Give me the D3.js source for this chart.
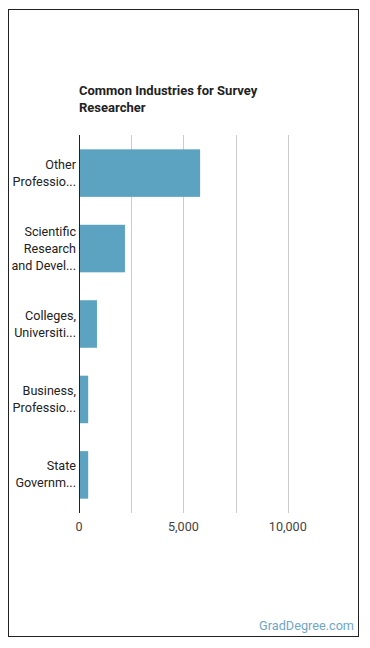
<!DOCTYPE html>
<html>
<head>
<meta charset="utf-8">
<script src="https://cdn.jsdelivr.net/npm/d3@7"></script>
<style>
  body { margin: 0; background: #fff; font-family: Roboto, "Open Sans", sans-serif; }
</style>
</head>
<body>
<div id="chart"></div>
<script>
// chart values
const industries = [
    ['Other', 'Professio...'],
    ['Scientific', 'Research', 'and Devel...'],
    ['Colleges,', 'Universiti...'],
    ['Business,', 'Professio...'],
    ['State', 'Governm...']
];
const workers = [5800, 2200, 860, 440, 440];
const tickValues = [0, 5000, 10000];
const gridValues = [2500, 5000, 7500, 10000];

const width = 370, height = 648;
const margin = { top: 135, left: 79, right: 30, bottom: 138 };

const svg = d3.select('#chart').append('svg')
    .attr('width', width)
    .attr('height', height);

// outer frame
svg.append('rect')
    .attr('x', 8.5).attr('y', 9.5)
    .attr('width', 350).attr('height', 627)
    .attr('fill', 'none')
    .attr('stroke', '#222')
    .attr('stroke-width', 1);

// title
svg.append('text')
    .attr('x', 79).attr('y', 95)
    .attr('font-size', 13).attr('font-weight', 'bold').attr('fill', '#222')
    .selectAll('tspan')
    .data(['Common Industries for Survey', 'Researcher'])
    .enter().append('tspan')
    .attr('x', 79)
    .attr('dy', (d, i) => i === 0 ? 0 : 17)
    .text(d => d);

const x = d3.scaleLinear()
    .domain([0, 12500])
    .range([margin.left, 340]);

const y = d3.scaleBand()
    .domain(d3.range(workers.length))
    .range([margin.top, height - margin.bottom + 3])
    .paddingInner(0.37)
    .paddingOuter(0.19);

// gridlines
svg.append('g').selectAll('line')
    .data(gridValues)
    .enter().append('line')
    .attr('x1', d => Math.round(x(d)) + 0.5)
    .attr('x2', d => Math.round(x(d)) + 0.5)
    .attr('y1', margin.top)
    .attr('y2', height - margin.bottom + 3)
    .attr('stroke', '#ccc')
    .attr('stroke-width', 1);

// bars
svg.append('g').selectAll('rect')
    .data(workers)
    .enter().append('rect')
    .attr('x', x(0))
    .attr('y', (d, i) => y(i))
    .attr('width', d => x(d) - x(0))
    .attr('height', y.bandwidth())
    .attr('fill', '#5ba3c1');

// y axis line
svg.append('line')
    .attr('x1', x(0) + 0.5).attr('x2', x(0) + 0.5)
    .attr('y1', margin.top).attr('y2', height - margin.bottom + 3)
    .attr('stroke', '#222');

// category labels
const labels = svg.append('g').selectAll('text')
    .data(industries)
    .enter().append('text')
    .attr('text-anchor', 'end')
    .attr('font-size', 12.6)
    .attr('fill', '#222')
    .attr('transform', (d, i) => {
        const cy = y(i) + y.bandwidth() / 2;
        const top = cy - (d.length - 1) * 17 / 2 + 4;
        return `translate(76,${top})`;
    });

labels.selectAll('tspan')
    .data(d => d)
    .enter().append('tspan')
    .attr('x', 0)
    .attr('dy', (d, i) => i === 0 ? 0 : 17)
    .text(d => d);

// x tick labels
svg.append('g').selectAll('text')
    .data(tickValues)
    .enter().append('text')
    .attr('x', d => x(d))
    .attr('y', 531)
    .attr('text-anchor', 'middle')
    .attr('font-size', 12.6)
    .attr('fill', '#444')
    .text(d => d3.format(',')(d));

// source
svg.append('text')
    .attr('x', 354).attr('y', 630)
    .attr('text-anchor', 'end')
    .attr('font-size', 12.7)
    .attr('fill', '#6fa6c6')
    .text('GradDegree.com');
</script>
</body>
</html>
